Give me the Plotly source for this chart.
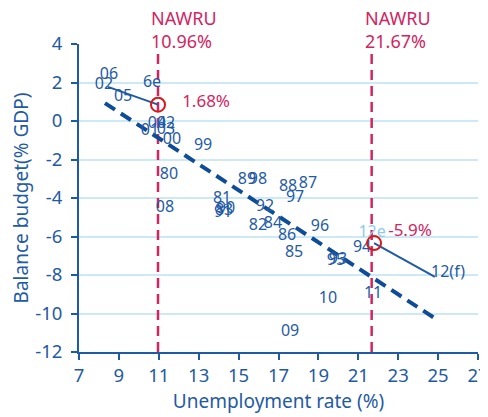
import plotly.graph_objects as go

# year labels placed at (unemployment %, balance % GDP)
years = ["06", "02", "05", "6e", "04", "02", "03", "01", "00", "99",
         "80", "08", "89", "98", "81", "83", "90", "91", "92", "82", "84",
         "88", "87", "97", "86", "96", "85", "93", "95", "94",
         "11", "10", "09", "12(f)"]
unemp = [8.50, 8.25, 9.21, 10.66, 10.91, 11.36, 11.36, 10.56, 11.66, 13.22,
         11.51, 11.31, 15.42, 15.97, 14.17, 14.27, 14.37, 14.22, 16.32, 15.97, 16.72,
         17.48, 18.48, 17.83, 17.43, 19.08, 17.78, 19.98, 19.88, 21.19,
         21.74, 19.48, 17.58, 25.5]
balance = [2.39, 1.87, 1.25, 1.97, -0.16, -0.16, -0.47, -0.52, -0.99, -1.30,
           -2.81, -4.52, -3.06, -3.06, -4.05, -4.68, -4.58, -4.78, -4.47, -5.45, -5.35,
           -3.43, -3.27, -4.00, -5.97, -5.51, -6.86, -7.22, -7.27, -6.60,
           -8.99, -9.25, -10.96, -7.90]

# trend line (regression) end points
trend_x = [8.30, 24.9]
trend_y = [0.93, -10.29]

# short-run paths
path1_x = [8.45, 10.96]
path1_y = [1.77, 0.85]
path2_x = [21.79, 24.84]
path2_y = [-6.34, -8.10]

nawru = [10.96, 21.67]
nawru_text = ["NAWRU<br>10.96%", "NAWRU<br>21.67%"]
circle_x = [10.96, 21.79]
circle_y = [0.85, -6.34]
circle_text = ["1.68%", "-5.9%"]

BLUE = "#1f5aa6"
DARK = "#0f4c97"
CRIMSON = "#d2255f"
GRID = "#cde9f6"
FONT = "Noto Sans"

fig = go.Figure()

for n in nawru:
    fig.add_trace(go.Scatter(x=[n, n], y=[-12, 3.7], mode="lines",
                             line=dict(color=CRIMSON, width=2.5, dash="10px,6px"),
                             hoverinfo="skip"))

fig.add_trace(go.Scatter(x=trend_x, y=trend_y, mode="lines",
                         line=dict(color=DARK, width=4, dash="12px,7px")))
fig.add_trace(go.Scatter(x=path1_x, y=path1_y, mode="lines",
                         line=dict(color=BLUE, width=2)))
fig.add_trace(go.Scatter(x=path2_x, y=path2_y, mode="lines",
                         line=dict(color=BLUE, width=2)))

fig.add_trace(go.Scatter(x=unemp, y=balance, mode="text", text=years,
                         textfont=dict(family=FONT, size=16, color=BLUE)))
fig.add_trace(go.Scatter(x=[21.69], y=[-5.82], mode="text", text=["12e"],
                         textfont=dict(family=FONT, size=16, color="#8ecbea")))

fig.add_trace(go.Scatter(x=circle_x, y=circle_y, mode="markers",
                         marker=dict(size=14, color="rgba(0,0,0,0)",
                                     line=dict(color="#d7191c", width=2))))
fig.add_trace(go.Scatter(x=[13.37, 23.59], y=[0.93, -5.77], mode="text",
                         text=circle_text,
                         textfont=dict(family=FONT, size=17, color=CRIMSON)))

for n, t in zip(nawru, nawru_text):
    fig.add_annotation(x=n, y=1.0, xref="x", yref="paper", text=t,
                       showarrow=False, xanchor="left", yanchor="bottom",
                       xshift=-9, yshift=-11, align="left",
                       font=dict(family=FONT, size=18, color=CRIMSON))

yticks = list(range(4, -13, -2))
fig.update_xaxes(range=[7, 27], tickmode="array", tickvals=list(range(7, 28, 2)),
                 showgrid=False, zeroline=False, showline=True, linecolor=BLUE,
                 linewidth=2, ticks="outside", ticklen=6, tickwidth=2, tickcolor=BLUE,
                 automargin=False, ticklabeloverflow="allow",
                 tickfont=dict(family=FONT, size=18.5, color=BLUE),
                 title=dict(text="Unemployment rate (%)", standoff=8,
                            font=dict(family=FONT, size=19, color=BLUE)))
fig.update_yaxes(range=[-12, 4], tickmode="array", tickvals=yticks,
                 ticktext=[str(v) for v in yticks],
                 showgrid=True, gridcolor=GRID, gridwidth=1.5, zeroline=False,
                 showline=True, linecolor=BLUE, linewidth=2,
                 ticks="outside", ticklen=6, tickwidth=2, tickcolor=BLUE,
                 ticklabelstandoff=5, automargin=False,
                 tickfont=dict(family=FONT, size=18.5, color=BLUE),
                 title=dict(text="Balance budget(% GDP)", standoff=10,
                            font=dict(family=FONT, size=19, color=BLUE)))

# page body adds an 8px offset, so the figure is 8px smaller on each axis
fig.update_layout(width=480, height=409, showlegend=False,
                  margin=dict(l=71, r=10, t=36, b=65),
                  plot_bgcolor="white", paper_bgcolor="white")

fig.write_html("out.html")
